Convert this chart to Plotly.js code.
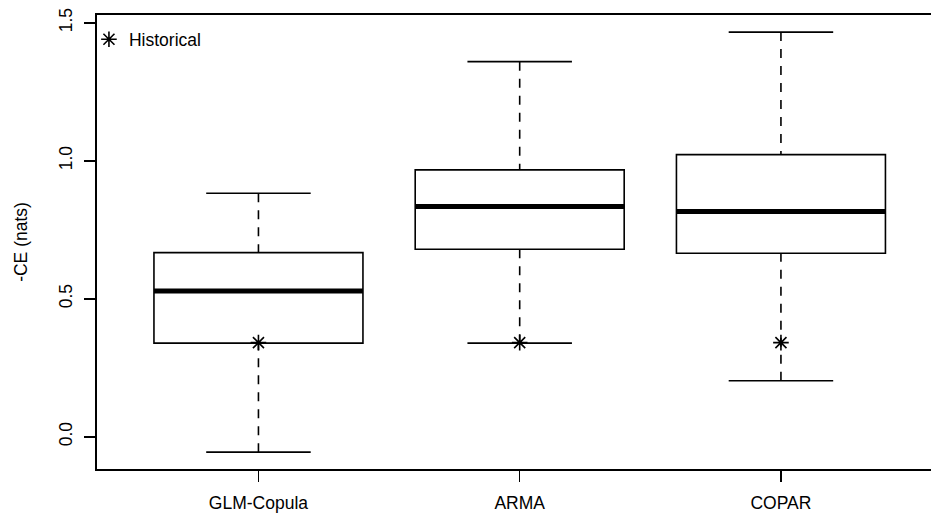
<!DOCTYPE html>
<html>
<head>
<meta charset="utf-8">
<script src="https://cdn.plot.ly/plotly-3.0.1.min.js"></script>
<style>
html,body{margin:0;padding:0;overflow:hidden;background:#fff;}
#chart{width:945px;height:515px;}
</style>
</head>
<body>
<div id="chart"></div>
<script>
// Data
var categories = ["GLM-Copula", "ARMA", "COPAR"];
var positions = [1, 2, 3];
var lowerWhisker = [-0.056, 0.339, 0.203];
var q1 = [0.339, 0.679, 0.665];
var median = [0.528, 0.834, 0.816];
var q3 = [0.667, 0.967, 1.022];
var upperWhisker = [0.882, 1.359, 1.466];
var historical = [0.341, 0.341, 0.341];
var yTickVals = [0.0, 0.5, 1.0, 1.5];
var yTickText = ["0.0", "0.5", "1.0", "1.5"];

var FONT = "Liberation Sans, Arial, Helvetica, sans-serif";
var LW = 1.6;
var boxHalf = 0.4, capHalf = 0.2;

var traces = [];

// Box bodies (no whiskers drawn by the box itself)
traces.push({
  type: "box",
  x: positions,
  q1: q1, median: median, q3: q3,
  lowerfence: q1, upperfence: q3,
  width: 2 * boxHalf,
  whiskerwidth: 0,
  fillcolor: "rgba(255,255,255,0)",
  line: {color: "#000", width: LW},
  boxpoints: false,
  showlegend: false,
  hoverinfo: "skip"
});

for (var i = 0; i < positions.length; i++) {
  var p = positions[i];
  // dashed whiskers
  traces.push({type: "scatter", mode: "lines", x: [p, p], y: [upperWhisker[i], q3[i]],
    line: {color: "#000", width: LW, dash: "9px,8px"}, showlegend: false, hoverinfo: "skip"});
  traces.push({type: "scatter", mode: "lines", x: [p, p], y: [lowerWhisker[i], q1[i]],
    line: {color: "#000", width: LW, dash: "9px,8px"}, showlegend: false, hoverinfo: "skip"});
  // whisker caps
  traces.push({type: "scatter", mode: "lines", x: [p - capHalf, p + capHalf], y: [upperWhisker[i], upperWhisker[i]],
    line: {color: "#000", width: LW}, showlegend: false, hoverinfo: "skip"});
  traces.push({type: "scatter", mode: "lines", x: [p - capHalf, p + capHalf], y: [lowerWhisker[i], lowerWhisker[i]],
    line: {color: "#000", width: LW}, showlegend: false, hoverinfo: "skip"});
  // thick median
  traces.push({type: "scatter", mode: "lines", x: [p - boxHalf, p + boxHalf], y: [median[i], median[i]],
    line: {color: "#000", width: 5}, showlegend: false, hoverinfo: "skip"});
}

// Historical points
traces.push({
  type: "scatter", mode: "markers", name: "Historical",
  x: positions, y: historical,
  marker: {symbol: "asterisk-open", size: 13, color: "#000", line: {color: "#000", width: 1.6}},
  showlegend: true, hoverinfo: "skip"
});

var layout = {
  width: 945, height: 515,
  margin: {l: 97, r: 0, t: 15, b: 46, pad: 0},
  paper_bgcolor: "#fff", plot_bgcolor: "#fff",
  font: {family: FONT, size: 17.5, color: "#000"},
  showlegend: true,
  legend: {x: -0.0095, y: 0.986, xanchor: "left", yanchor: "top", bgcolor: "rgba(0,0,0,0)",
    font: {family: FONT, size: 17.5, color: "#000"}, itemwidth: 30, tracegroupgap: 0},
  xaxis: {
    range: [0.382, 3.628], tickmode: "array", tickvals: positions, ticktext: categories,
    showgrid: false, zeroline: false, showline: true, linecolor: "#000", linewidth: LW,
    mirror: true, ticks: "outside", ticklen: 11, tickwidth: LW, tickcolor: "#000",
    ticklabelstandoff: 6,
    tickfont: {family: FONT, size: 17.5, color: "#000"}
  },
  yaxis: {
    range: [-0.117, 1.528], tickmode: "array", tickvals: yTickVals, ticktext: yTickText,
    tickangle: -90,
    showgrid: false, zeroline: false, showline: true, linecolor: "#000", linewidth: LW,
    ticks: "outside", ticklen: 11, tickwidth: LW, tickcolor: "#000",
    ticklabelstandoff: 5,
    tickfont: {family: FONT, size: 17.5, color: "#000"},
    title: {text: "-CE (nats)", font: {family: FONT, size: 17.5, color: "#000"}, standoff: 24}
  }
};

Plotly.newPlot("chart", traces, layout, {staticPlot: true, displayModeBar: false});
</script>
</body>
</html>
